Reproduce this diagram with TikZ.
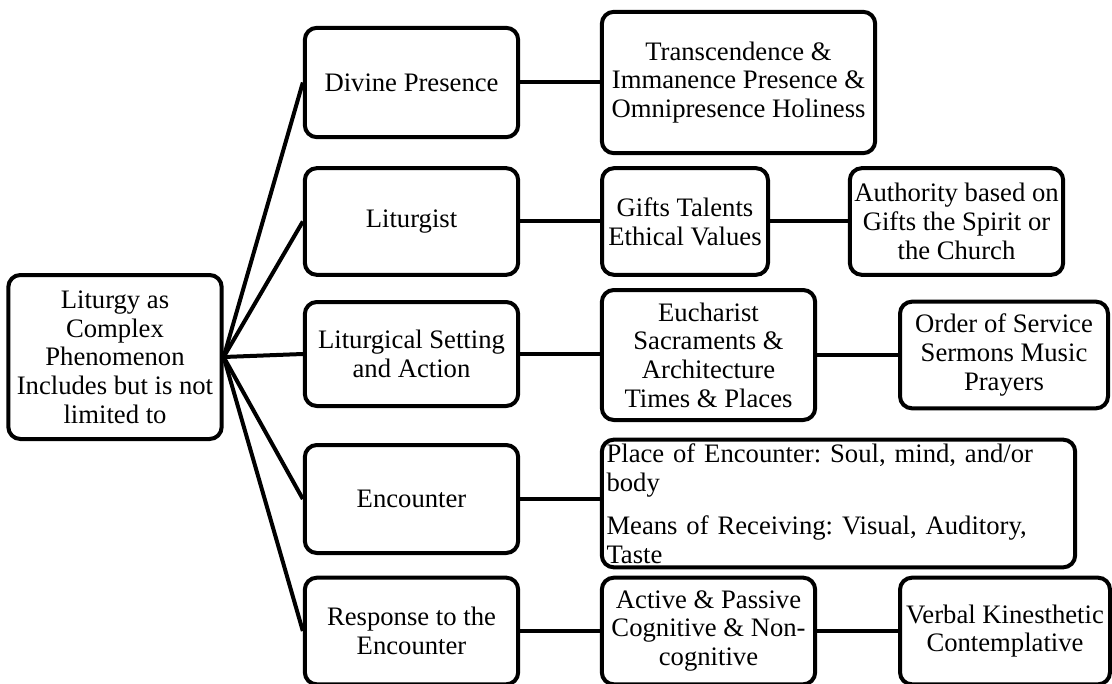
\documentclass[tikz,border=0pt]{standalone}
\usepackage{fontspec}
\setmainfont{Liberation Serif}
\frenchspacing
\begin{document}
\begin{tikzpicture}[x=0.75pt, y=-0.75pt,
		box/.style={draw, line width=3pt, rounded corners=9pt, align=center, inner sep=2pt,
			minimum width=160pt, minimum height=80pt, font=\fontsize{20}{21.5}\selectfont},
		link/.style={line width=3pt}]
		\useasboundingbox (0,0) rectangle (1112,684);
		
		% Root node
		\node[box, minimum height=123pt] (root) at (115,357) {Liturgy as\\Complex\\Phenomenon\\Includes but is not\\limited to};
		
		% First level
		\node[box, minimum height=82pt] (branch1) at (411.5,82.5) {Divine Presence};
		\node[box] (branch2) at (411.5,221.5) {Liturgist};
		\node[box, minimum height=78pt] (branch3) at (411.5,354) {Liturgical Setting\\and Action};
		\node[box, minimum height=81pt] (branch4) at (411.5,499) {Encounter};
		\node[box] (branch5) at (411.5,631) {Response to the\\Encounter};
		
		% Second level
		\node[box, minimum width=205pt, minimum height=106pt] (sub1) at (738.5,82.5) {Transcendence \&\\Immanence Presence \&\\Omnipresence Holiness};
		\node[box, minimum width=124.5pt] (sub2) at (685,221.5) {Gifts Talents\\Ethical Values};
		\node[box, minimum height=97.5pt] (sub3) at (708.5,355) {Eucharist\\Sacraments \&\\Architecture\\Times \& Places};
		\node[box, minimum width=355pt, minimum height=95pt, inner sep=3pt, text width=348pt, align=left] (sub4) at (838.5,503.5) {Place of Encounter: Soul, mind, and/or\\body\\[11pt]Means of Receiving: Visual, Auditory,\\Taste};
		\node[box] (sub5) at (708.5,631) {Active \& Passive\\Cognitive \& Non-\\cognitive};
		
		% Third level
		\node[box] (tail2) at (956.5,221.5) {Authority based on\\Gifts the Spirit or\\the Church};
		\node[box, minimum width=156pt] (tail3) at (1004,355) {Order of Service\\Sermons Music\\Prayers};
		\node[box, minimum width=157.5pt] (tail5) at (1005,631) {Verbal Kinesthetic\\Contemplative};
		
		% connections
		\foreach \b in {1,...,5} {
			\draw[link] (root.east) -- (branch\b.west);
			\draw[link] (branch\b.east) -- (sub\b.west |- branch\b.east);
		}
		
		\foreach \b in {2,3,5} {
			\draw[link] (sub\b.east) -- (tail\b.west |- sub\b.east);
		}
	\end{tikzpicture}
\end{document}
